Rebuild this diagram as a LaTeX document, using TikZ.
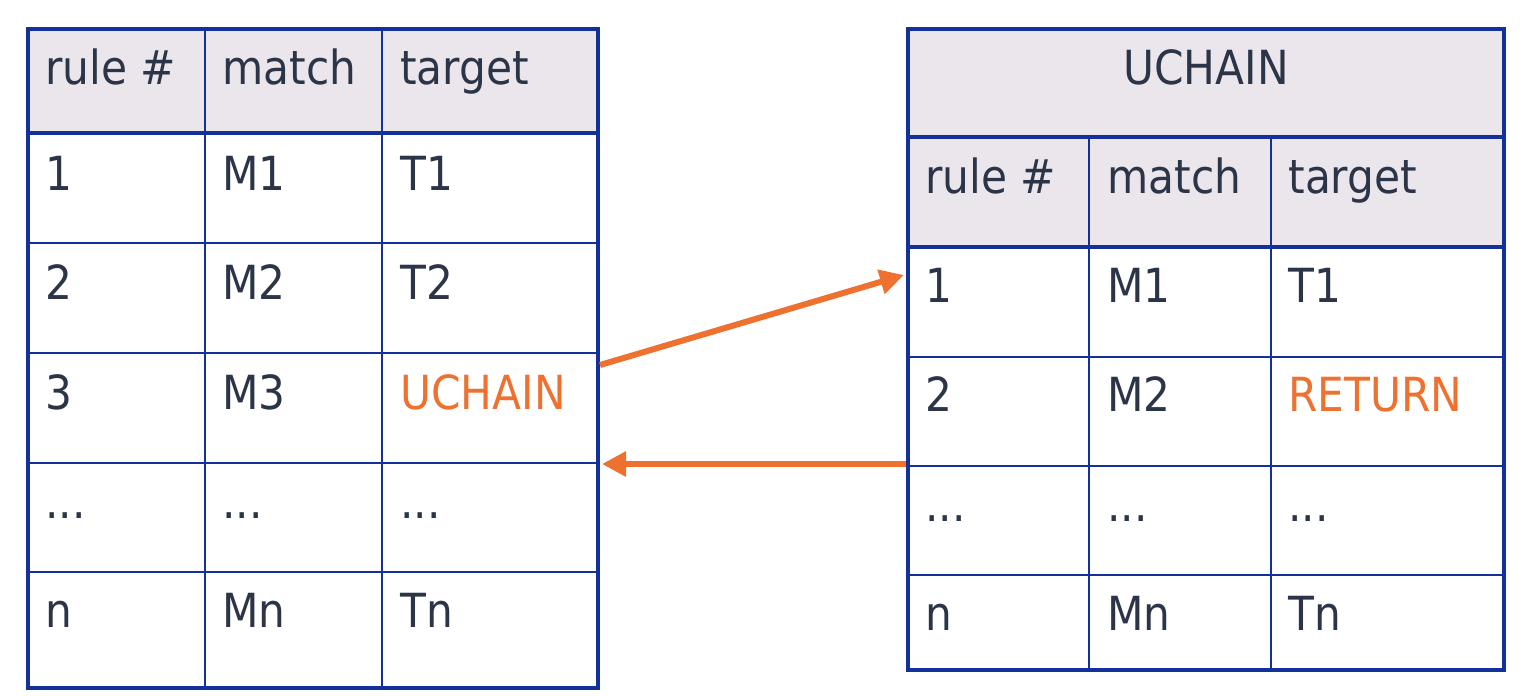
\documentclass[tikz,border=0pt]{standalone}
\usepackage{fontspec}
\setmainfont{DejaVu Sans Condensed}
\usetikzlibrary{arrows.meta}
\definecolor{tblue}{HTML}{14309A}
\definecolor{tfill}{HTML}{EBE6EC}
\definecolor{ttext}{HTML}{2B3547}
\definecolor{torange}{HTML}{EE7130}
\tikzset{
  cell/.style={anchor=base west, inner sep=0pt, text=ttext, font=\fontsize{23.5}{28}\selectfont},
  hot/.style={cell, text=torange},
  grid/.style={draw=tblue, line width=1pt},
  rim/.style={draw=tblue, line width=2pt},
  frame/.style={rectangle, rim, inner sep=0pt},
  link/.style={draw=torange, line width=3pt, -{Triangle[length=12pt, width=12pt]}},
}
\begin{document}
\begin{tikzpicture}[x=0.5pt, y=-0.5pt]
\useasboundingbox (0,0) rectangle (1528,696);
% header fills
\fill[tfill] (28,29) rectangle (598,133);
\fill[tfill] (908,29) rectangle (1504,247);
% left table grid
\foreach \x in {205,382} \draw[grid] (\x,29)--(\x,688);
\foreach \y in {243,353,463,572} \draw[grid] (28,\y)--(598,\y);
% right table grid
\foreach \x in {1089,1271} \draw[grid] (\x,137)--(\x,670);
\foreach \y in {357,466,575} \draw[grid] (908,\y)--(1504,\y);
% frames
\node[frame, minimum width=285pt, minimum height=329.5pt] (ltab) at (313,358.5) {};
\node[frame, minimum width=298pt, minimum height=320.5pt] (rtab) at (1206,349.5) {};
\draw[rim] (28,133)--(598,133);
\draw[rim] (908,137)--(1504,137);
\draw[rim] (908,247)--(1504,247);
% left table texts
    \node[cell] (lh1) at (45,84) {rule \#};
    \node[cell] (lh2) at (222,84) {match};
    \node[cell] (lh3) at (400,84) {target};
    \node[cell] (l11) at (45,190) {1};
    \node[cell] (l12) at (222,190) {M1};
    \node[cell] (l13) at (400,190) {T1};
    \node[cell] (l21) at (45,299) {2};
    \node[cell] (l22) at (222,299) {M2};
    \node[cell] (l23) at (400,299) {T2};
    \node[cell] (l31) at (45,409) {3};
    \node[cell] (l32) at (222,409) {M3};
    \node[hot]  (l33) at (400,409) {UCHAIN};
    \node[cell] (l41) at (45,518) {...};
    \node[cell] (l42) at (222,518) {...};
    \node[cell] (l43) at (400,518) {...};
    \node[cell] (l51) at (45,627) {n};
    \node[cell] (l52) at (222,627) {Mn};
    \node[cell] (l53) at (400,627) {Tn};
% right table texts
    \node[cell, anchor=base] (rtitle) at (1206,84) {UCHAIN};
    \node[cell] (rh1) at (925,193) {rule \#};
    \node[cell] (rh2) at (1107,193) {match};
    \node[cell] (rh3) at (1288,193) {target};
    \node[cell] (r11) at (925,302) {1};
    \node[cell] (r12) at (1107,302) {M1};
    \node[cell] (r13) at (1288,302) {T1};
    \node[cell] (r21) at (925,411) {2};
    \node[cell] (r22) at (1107,411) {M2};
    \node[hot]  (r23) at (1288,411) {RETURN};
    \node[cell] (r31) at (925,521) {...};
    \node[cell] (r32) at (1107,521) {...};
    \node[cell] (r33) at (1288,521) {...};
    \node[cell] (r41) at (925,630) {n};
    \node[cell] (r42) at (1107,630) {Mn};
    \node[cell] (r43) at (1288,630) {Tn};
% jump and return
\draw[link] ([yshift=-3.25pt]ltab.east) -- ([yshift=37.25pt, xshift=-1pt]rtab.west);
\draw[link] ([yshift=-57.25pt]rtab.west) -- ([yshift=-52.75pt, xshift=1pt]ltab.east);
\end{tikzpicture}
\end{document}
